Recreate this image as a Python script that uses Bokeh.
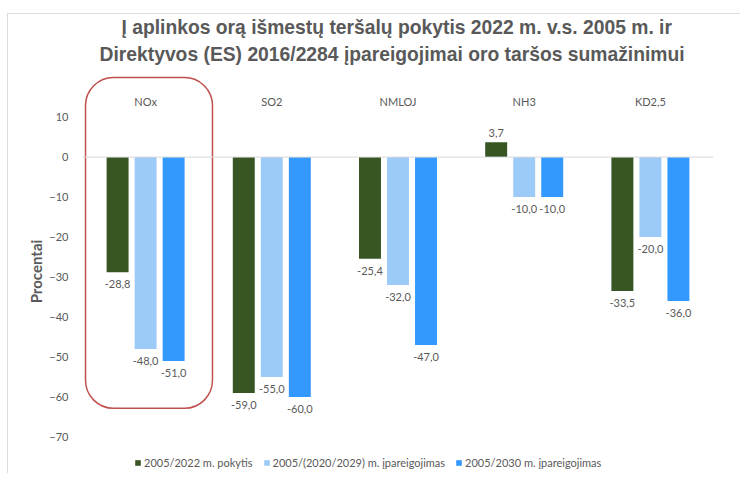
import numpy as np
from bokeh.plotting import figure
from bokeh.models import (ColumnDataSource, Range1d, FixedTicker, Span, Legend, LegendItem,
                          Title)
from bokeh.embed import file_html
from bokeh.resources import INLINE
from bokeh.core.properties import value

# ---- data ----
categories = ["NOx", "SO2", "NMLOJ", "NH3", "KD2,5"]
series_names = ["2005/2022 m. pokytis",
                "2005/(2020/2029) m. įpareigojimas",
                "2005/2030 m. įpareigojimas"]
change_2005_2022 = [-28.8, -59.0, -25.4, 3.7, -33.5]
commit_2020_2029 = [-48.0, -55.0, -32.0, -10.0, -20.0]
commit_2030 = [-51.0, -60.0, -47.0, -10.0, -36.0]
y_ticks = [10, 0, -10, -20, -30, -40, -50, -60, -70]
highlight_category = "NOx"

series_values = [change_2005_2022, commit_2020_2029, commit_2030]
colors = ["#375623", "#9DCBF8", "#3399FF"]
TXT = "#595959"
FONT = "Lato"

title_line1 = "Į aplinkos orą išmestų teršalų pokytis 2022 m. v.s. 2005 m. ir"
title_line2 = "Direktyvos (ES) 2016/2284 įpareigojimai oro taršos sumažinimui"

p = figure(width=740, height=473,
           x_range=Range1d(-0.5, 4.5), y_range=Range1d(-79.1, 21.9),
           output_backend="svg", toolbar_location=None,
           x_axis_location=None,
           min_border_left=82, min_border_right=27,
           min_border_top=69, min_border_bottom=0)
p.title.text = ""
p.title.visible = False
# titles added first sit nearest the plot frame
p.add_layout(Title(text=title_line2, align="left", offset=17, standoff=9,
                   text_font="Liberation Sans", text_font_size="19.3px",
                   text_font_style="bold", text_color=TXT), "above")
p.add_layout(Title(text=title_line1, align="left", offset=39, standoff=0,
                   text_font="Liberation Sans", text_font_size="19.3px",
                   text_font_style="bold", text_color=TXT), "above")
# small empty spacer above the title lines
p.add_layout(Title(text=" ", align="left", standoff=10,
                   text_font_size="2px", text_color=TXT), "above")
p.xgrid.visible = False
p.ygrid.visible = False
p.outline_line_color = None
p.background_fill_color = "white"
p.border_fill_color = None
p.styles = {
    "background": ("linear-gradient(#DCDCDC, #DCDCDC) 7px 13px / 1px 100% no-repeat, "
                   "linear-gradient(#DCDCDC, #DCDCDC) 7px 13px / 100% 1px no-repeat, white"),
}

ax = p.yaxis[0]
ax.ticker = FixedTicker(ticks=y_ticks)
ax.axis_line_color = None
ax.major_tick_line_color = None
ax.minor_tick_line_color = None
ax.major_label_standoff = 8
ax.major_label_text_font = FONT
ax.major_label_text_font_size = "11px"
ax.major_label_text_color = TXT
ax.axis_label = "Procentai"
ax.axis_label_text_font = FONT
ax.axis_label_text_font_size = "15px"
ax.axis_label_text_font_style = "bold"
ax.axis_label_text_color = TXT
ax.axis_label_standoff = 1

p.add_layout(Span(location=0, dimension="width", line_color="#D9D9D9", line_width=1))

# highlight box around one category
hi = categories.index(highlight_category)
p.quad(left=hi - 0.476, right=hi + 0.53, top=19.9, bottom=-62.8,
       fill_color=None, line_color="#C0504D", line_width=1.5, border_radius=28)

offsets = [-0.222, 0.0, 0.222]
xs = np.arange(len(categories))
bars = []
for vals, off, col in zip(series_values, offsets, colors):
    vals = np.array(vals, dtype=float)
    src = ColumnDataSource(dict(
        x=xs + off,
        top=vals,
        label=[f"{v:.1f}".replace(".", ",") for v in vals],
        base=["top" if v < 0 else "bottom" for v in vals],
        yoff=[8 if v < 0 else -5 for v in vals],
    ))
    r = p.vbar(x="x", top="top", bottom=0, width=0.174, source=src,
               fill_color=col, line_color=None)
    bars.append(r)
    p.text(x="x", y="top", text="label", source=src,
           text_align="center", text_baseline="base", y_offset="yoff",
           text_font=value(FONT), text_font_size="11px", text_color=TXT)

# category labels at the top
p.text(x=xs, y=[13.9] * len(categories), text=categories,
       text_align="center", text_baseline="middle",
       text_font=value(FONT), text_font_size="11px", text_color=TXT)

legend = Legend(items=[LegendItem(label=n, renderers=[r]) for n, r in zip(series_names, bars)],
                orientation="horizontal", location=(52, 4),
                border_line_color=None, background_fill_alpha=0,
                label_text_font=FONT, label_text_font_size="11px", label_text_color=TXT,
                glyph_width=7, glyph_height=7, label_standoff=3, spacing=10,
                padding=0, margin=0, label_height=14)
p.add_layout(legend)

open("out.html", "w").write(file_html(p, INLINE))
